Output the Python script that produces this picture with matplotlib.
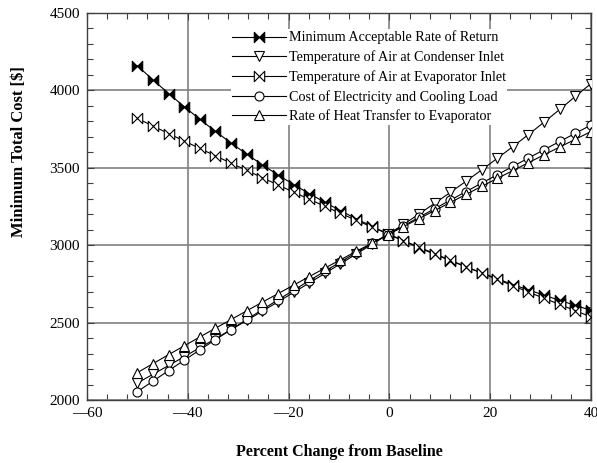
import matplotlib
matplotlib.use('Agg')
import matplotlib.pyplot as plt
from matplotlib.path import Path
from matplotlib.ticker import MultipleLocator, FuncFormatter

plt.rcParams['font.family'] = ['Liberation Serif', 'DejaVu Serif']

# percent change from baseline (x) for every point
pct_change = [-50.0, -46.9, -43.8, -40.7, -37.6, -34.5, -31.4, -28.3, -25.2, -22.1,
              -19.0, -15.9, -12.8, -9.7, -6.6, -3.4, -0.3, 2.8, 5.9, 9.0,
              12.1, 15.2, 18.3, 21.4, 24.5, 27.6, 30.7, 33.8, 36.9, 40.0]

marr_cost = [4159, 4068, 3980, 3895, 3813, 3735, 3660, 3588, 3519, 3454,
             3392, 3333, 3277, 3223, 3171, 3121, 3073, 3027, 2983, 2941,
             2900, 2860, 2821, 2783, 2746, 2711, 2677, 2644, 2611, 2579]

condenser_cost = [2110, 2166, 2223, 2280, 2338, 2396, 2455, 2514, 2574, 2634,
                  2695, 2756, 2818, 2880, 2943, 3006, 3070, 3134, 3202, 3271,
                  3341, 3413, 3486, 3561, 3637, 3715, 3795, 3877, 3961, 4044]

evaporator_cost = [3819, 3770, 3721, 3673, 3625, 3577, 3530, 3483, 3436, 3389,
                   3343, 3297, 3251, 3206, 3161, 3117, 3073, 3030, 2987, 2945,
                   2903, 2861, 2820, 2779, 2738, 2697, 2657, 2617, 2577, 2537]

electricity_cost = [2054, 2122, 2190, 2257, 2324, 2390, 2455, 2520, 2584, 2647,
                    2709, 2771, 2832, 2892, 2952, 3011, 3069, 3125, 3181, 3236,
                    3291, 3346, 3401, 3455, 3509, 3563, 3617, 3670, 3723, 3776]

heat_transfer_cost = [2177, 2235, 2293, 2350, 2407, 2464, 2520, 2576, 2632, 2687,
                      2742, 2797, 2852, 2906, 2960, 3014, 3068, 3120, 3172, 3224,
                      3276, 3328, 3380, 3431, 3482, 3533, 3584, 3634, 3684, 3734]

series_labels = ['Minimum Acceptable Rate of Return',
                 'Temperature of Air at Condenser Inlet',
                 'Temperature of Air at Evaporator Inlet',
                 'Cost of Electricity and Cooling Load',
                 'Rate of Heat Transfer to Evaporator']

# sideways bowtie marker |><|
bowtie = Path([(-1, 1), (-1, -1), (1, 1), (1, -1), (-1, 1)],
              [Path.MOVETO, Path.LINETO, Path.LINETO, Path.LINETO, Path.CLOSEPOLY])


def dash_minus(v, pos):
    if v < 0:
        return '\u2014' + f'{-v:g}'
    return f'{v:g}'


fig = plt.figure(figsize=(5.97, 4.63), dpi=100)
ax = fig.add_axes([0.1457, 0.1361, 0.8442, 0.8358])

series = [marr_cost, condenser_cost, evaporator_cost, electricity_cost, heat_transfer_cost]
markers = [bowtie, 'v', bowtie, 'o', '^']
faces = ['black', 'white', 'white', 'white', 'white']
sizes = [7.5, 7, 7.5, 6.5, 7]

for vals, mk, fc, ms, lab in zip(series, markers, faces, sizes, series_labels):
    ax.plot(pct_change, vals, color='black', linewidth=0.8, marker=mk, markersize=ms,
            markerfacecolor=fc, markeredgecolor='black', markeredgewidth=0.8,
            label=lab, zorder=3)

ax.set_xlim(-60, 40)
ax.set_ylim(2000, 4500)
ax.xaxis.set_major_locator(MultipleLocator(20))
ax.xaxis.set_minor_locator(MultipleLocator(4))
ax.yaxis.set_major_locator(MultipleLocator(500))
ax.yaxis.set_minor_locator(MultipleLocator(100))
ax.xaxis.set_major_formatter(FuncFormatter(dash_minus))

ax.grid(which='major', color='#808080', linewidth=1.2, zorder=0)
ax.set_axisbelow(True)
ax.tick_params(which='both', direction='in', top=True, right=True,
               labelsize=11, width=0.8, color='#404040')
ax.tick_params(which='major', length=5, pad=5)
ax.tick_params(which='minor', length=4)
for sp in ax.spines.values():
    sp.set_linewidth(1.0)
    sp.set_color('#404040')

ax.set_xlabel('Percent Change from Baseline', fontsize=11.5, fontweight='bold')
ax.xaxis.set_label_coords(0.5, -0.113)
ax.set_ylabel('Minimum Total Cost [$]', fontsize=12, fontweight='bold')
ax.yaxis.set_label_coords(-0.119, 0.643)

leg = ax.legend(loc='upper left', bbox_to_anchor=(0.285, 0.958), fontsize=10.2,
                frameon=True, fancybox=False, edgecolor='none', facecolor='white',
                framealpha=1, borderpad=0.1, borderaxespad=0, handlelength=3.8,
                handletextpad=0.2, labelspacing=0.42)

fig.savefig('out.png', dpi=100)
